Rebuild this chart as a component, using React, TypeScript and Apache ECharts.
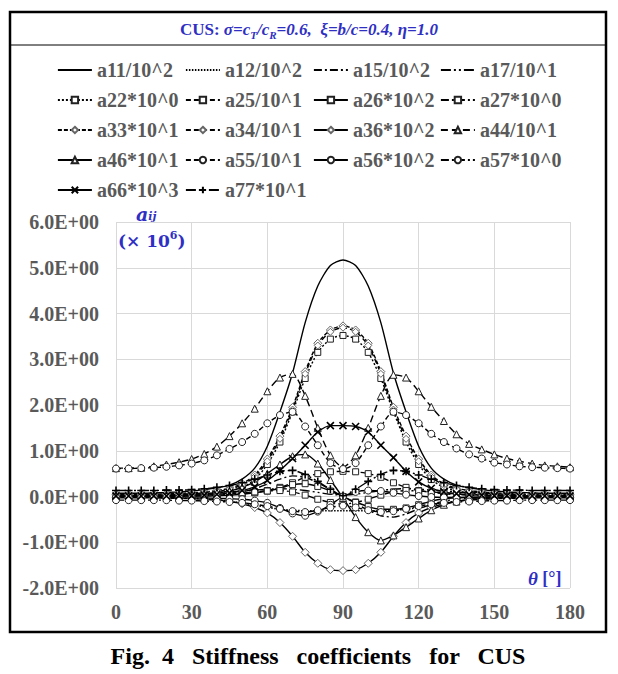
import React, { useEffect, useRef } from 'react';
import * as echarts from 'echarts';

const theta = [0, 5, 10, 15, 20, 25, 30, 35, 40, 45, 50, 55, 60, 65, 70, 75, 80, 85, 90, 95, 100, 105, 110, 115, 120, 125, 130, 135, 140, 145, 150, 155, 160, 165, 170, 175, 180];

const a11 = [0.07,0.07,0.07,0.08,0.09,0.1,0.12,0.15,0.19,0.25,0.38,0.62,1.1,1.85,2.7,3.8,4.6,5.05,5.17,5.05,4.6,3.8,2.7,1.85,1.1,0.62,0.38,0.25,0.19,0.15,0.12,0.1,0.09,0.08,0.07,0.07,0.07];
const a12 = [-0.01,-0.01,-0.01,-0.02,-0.02,-0.03,-0.04,-0.05,-0.07,-0.1,-0.14,-0.19,-0.24,-0.28,-0.3,-0.31,-0.31,-0.31,-0.31,-0.31,-0.31,-0.31,-0.3,-0.28,-0.24,-0.19,-0.14,-0.1,-0.07,-0.05,-0.04,-0.03,-0.02,-0.02,-0.01,-0.01,-0.01];
const a15 = [0,0,0,0,0.01,0.01,0.02,0.03,0.04,0.06,0.1,0.17,0.27,0.38,0.45,0.42,0.3,0.15,0,-0.15,-0.3,-0.42,-0.45,-0.38,-0.27,-0.17,-0.1,-0.06,-0.04,-0.03,-0.02,-0.01,-0.01,0,0,0,0];
const a17 = [0.04,0.04,0.04,0.04,0.05,0.05,0.06,0.07,0.08,0.1,0.12,0.14,0.16,0.17,0.16,0.13,0.09,0.05,0.03,0.05,0.09,0.13,0.16,0.17,0.16,0.14,0.12,0.1,0.08,0.07,0.06,0.05,0.05,0.04,0.04,0.04,0.04];
const a22 = [0.01,0.01,0.01,0.02,0.02,0.03,0.04,0.06,0.08,0.12,0.2,0.37,0.7,1.19,1.85,2.58,3.15,3.44,3.52,3.44,3.15,2.58,1.85,1.19,0.7,0.37,0.2,0.12,0.08,0.06,0.04,0.03,0.02,0.02,0.01,0.01,0.01];
const a25 = [0,0,0,0,0.01,0.01,0.01,0.02,0.03,0.04,0.06,0.09,0.13,0.2,0.3,0.42,0.5,0.54,0.55,0.54,0.5,0.42,0.3,0.2,0.13,0.09,0.06,0.04,0.03,0.02,0.01,0.01,0.01,0,0,0,0];
const a26 = [0,0,0,0,0,0.01,0.01,0.01,0.02,0.03,0.05,0.08,0.12,0.18,0.26,0.28,0.22,0.12,0,-0.12,-0.22,-0.28,-0.28,-0.25,-0.18,-0.1,-0.05,-0.03,-0.02,-0.01,-0.01,-0.01,0,0,0,0,0];
const a27 = [0.02,0.02,0.02,0.02,0.02,0.03,0.03,0.04,0.05,0.06,0.08,0.1,0.12,0.13,0.1,0.03,-0.06,-0.13,-0.17,-0.13,-0.06,0.03,0.1,0.13,0.12,0.1,0.08,0.06,0.05,0.04,0.03,0.03,0.02,0.02,0.02,0.02,0.02];
const a33 = [0.05,0.05,0.05,0.05,0.06,0.07,0.08,0.1,0.13,0.18,0.28,0.47,0.82,1.32,1.95,2.73,3.35,3.64,3.73,3.64,3.35,2.73,1.95,1.32,0.82,0.47,0.28,0.18,0.13,0.1,0.08,0.07,0.06,0.05,0.05,0.05,0.05];
const a34 = [0.03,0.03,0.03,0.03,0.04,0.05,0.06,0.08,0.11,0.16,0.25,0.43,0.77,1.26,1.9,2.68,3.3,3.6,3.69,3.6,3.3,2.68,1.9,1.26,0.77,0.43,0.25,0.16,0.11,0.08,0.06,0.05,0.04,0.03,0.03,0.03,0.03];
const a36 = [-0.03,-0.03,-0.03,-0.03,-0.04,-0.04,-0.05,-0.06,-0.08,-0.11,-0.16,-0.24,-0.36,-0.57,-0.87,-1.22,-1.46,-1.6,-1.62,-1.6,-1.46,-1.22,-0.87,-0.57,-0.36,-0.24,-0.16,-0.11,-0.08,-0.06,-0.05,-0.04,-0.04,-0.03,-0.03,-0.03,-0.03];
const a44 = [0.62,0.62,0.63,0.66,0.7,0.75,0.82,0.93,1.09,1.32,1.6,1.92,2.3,2.6,2.68,2.2,1.5,0.9,0.64,0.9,1.5,2.2,2.66,2.6,2.3,1.96,1.65,1.36,1.15,1.03,0.92,0.83,0.77,0.72,0.68,0.66,0.64];
const a46 = [0.02,0.02,0.02,0.03,0.03,0.04,0.05,0.06,0.08,0.12,0.2,0.32,0.5,0.7,0.88,0.92,0.72,0.36,-0.03,-0.45,-0.78,-0.96,-0.85,-0.67,-0.48,-0.3,-0.18,-0.11,-0.07,-0.05,-0.04,-0.03,-0.03,-0.02,-0.02,-0.02,-0.02];
const a55 = [0.61,0.61,0.62,0.63,0.65,0.68,0.72,0.79,0.9,1.04,1.19,1.37,1.6,1.78,1.85,1.53,1.12,0.73,0.6,0.73,1.12,1.53,1.85,1.78,1.6,1.37,1.19,1.05,0.92,0.83,0.74,0.7,0.66,0.64,0.63,0.62,0.61];
const a56 = [-0.02,-0.02,-0.02,-0.02,-0.02,-0.03,-0.03,-0.03,-0.04,-0.05,-0.06,-0.09,-0.14,-0.25,-0.37,-0.42,-0.33,-0.18,0,0.1,0.13,0.12,0.08,0.04,0.01,-0.01,-0.02,-0.02,-0.02,-0.02,-0.02,-0.02,-0.02,-0.02,-0.02,-0.02,-0.02];
const a57 = [-0.08,-0.08,-0.08,-0.08,-0.08,-0.09,-0.09,-0.1,-0.11,-0.12,-0.14,-0.17,-0.21,-0.27,-0.32,-0.34,-0.3,-0.24,-0.2,-0.24,-0.3,-0.34,-0.32,-0.27,-0.21,-0.17,-0.14,-0.12,-0.11,-0.1,-0.09,-0.09,-0.08,-0.08,-0.08,-0.08,-0.08];
const a66 = [0.01,0.01,0.01,0.01,0.01,0.02,0.02,0.03,0.05,0.08,0.13,0.21,0.35,0.57,0.83,1.12,1.41,1.55,1.55,1.53,1.41,1.12,0.85,0.55,0.32,0.18,0.1,0.06,0.04,0.03,0.02,0.02,0.01,0.01,0.01,0.01,0.01];
const a77 = [0.13,0.13,0.13,0.13,0.14,0.14,0.15,0.17,0.2,0.24,0.3,0.38,0.47,0.55,0.57,0.48,0.33,0.16,0.02,0.16,0.33,0.48,0.57,0.55,0.47,0.38,0.3,0.24,0.2,0.17,0.15,0.14,0.14,0.13,0.13,0.13,0.13];

const legendCol1 = ['a11/10^2', 'a22*10^0', 'a33*10^1', 'a46*10^1', 'a66*10^3'];
const legendCol2 = ['a12/10^2', 'a25/10^1', 'a34/10^1', 'a55/10^1', 'a77*10^1'];
const legendCol3 = ['a15/10^2', 'a26*10^2', 'a36*10^2', 'a56*10^2'];
const legendCol4 = ['a17/10^1', 'a27*10^0', 'a44/10^1', 'a57*10^0'];

const yTicks = [-2, -1, 0, 1, 2, 3, 4, 5, 6];

const XSYM = 'path://M0,0L10,10M10,0L0,10';
const PSYM = 'path://M5,0L5,10M0,5L10,5';

const DASH = [5, 3];
const SHORTDASH = [4, 2];
const DOT = [1.5, 1.5];
const DASHDOT = [8, 3, 2, 3];
const DASHDOTDOT = [10, 3, 2, 3, 2, 3];

const defs: any[] = [
  { name: 'a11/10^2', data: a11, dash: 'solid', symbol: 'none' },
  { name: 'a12/10^2', data: a12, dash: DOT, symbol: 'none' },
  { name: 'a15/10^2', data: a15, dash: DASHDOT, symbol: 'none' },
  { name: 'a17/10^1', data: a17, dash: DASHDOTDOT, symbol: 'none' },
  { name: 'a22*10^0', data: a22, dash: [2, 2], symbol: 'rect', size: 6 },
  { name: 'a25/10^1', data: a25, dash: DASH, symbol: 'rect', size: 6 },
  { name: 'a26*10^2', data: a26, dash: 'solid', symbol: 'rect', size: 6 },
  { name: 'a27*10^0', data: a27, dash: DASHDOT, symbol: 'rect', size: 6 },
  { name: 'a33*10^1', data: a33, dash: SHORTDASH, symbol: 'diamond', size: 8, gray: true },
  { name: 'a34/10^1', data: a34, dash: DASH, symbol: 'diamond', size: 7, gray: true },
  { name: 'a36*10^2', data: a36, dash: 'solid', symbol: 'diamond', size: 8, gray: true },
  { name: 'a44/10^1', data: a44, dash: [7, 4], symbol: 'triangle', size: 7 },
  { name: 'a46*10^1', data: a46, dash: 'solid', symbol: 'triangle', size: 7 },
  { name: 'a55/10^1', data: a55, dash: DASH, symbol: 'circle', size: 7 },
  { name: 'a56*10^2', data: a56, dash: 'solid', symbol: 'circle', size: 7 },
  { name: 'a57*10^0', data: a57, dash: DASHDOT, symbol: 'circle', size: 7 },
  { name: 'a66*10^3', data: a66, dash: 'solid', symbol: XSYM, size: 7, stroke: true },
  { name: 'a77*10^1', data: a77, dash: DASHDOTDOT, symbol: PSYM, size: 8, stroke: true },
];

const FONT = "'Liberation Serif', 'Times New Roman', serif";
const BLUE = '#2f2fc4';
const GRAY = '#595959';
const CLEAR = 'rgba(0,0,0,0)';

export default function App() {
  const ref = useRef<HTMLDivElement>(null);
  useEffect(() => {
    document.body.style.margin = '0';
    const chart = echarts.init(ref.current!, null, { renderer: 'svg' });
    const series = defs.map((d) => {
      const none = d.symbol === 'none';
      return {
        name: d.name,
        type: 'line',
        data: theta.map((t, i) => [t, d.data[i]]),
        smooth: 0.25,
        symbol: none ? 'circle' : d.symbol,
        symbolSize: d.size || 6,
        showSymbol: !none,
        lineStyle: { color: '#000', width: 1.4, type: d.dash },
        itemStyle: none
          ? { color: CLEAR, borderColor: CLEAR, borderWidth: 0 }
          : d.stroke
          ? { color: '#000', borderColor: '#000', borderWidth: 1.6 }
          : { color: '#fff', borderColor: d.gray ? '#666' : '#222', borderWidth: 1 },
        z: 3,
      };
    });
    const legendBase = {
      orient: 'vertical',
      itemWidth: 34,
      itemHeight: 8,
      itemGap: 10,
      top: 55,
      textStyle: { fontFamily: FONT, fontWeight: 'bold', fontSize: 20, color: GRAY, lineHeight: 20 },
      lineStyle: { width: 1.8 },
      selectedMode: false,
    };
    chart.setOption({
      animation: false,
      backgroundColor: '#fff',
      grid: { left: 116, right: 48, top: 222, bottom: 86 },
      legend: [
        { ...legendBase, left: 52, data: legendCol1 },
        { ...legendBase, left: 180, data: legendCol2 },
        { ...legendBase, left: 308, data: legendCol3 },
        { ...legendBase, left: 435, data: legendCol4 },
      ],
      xAxis: {
        type: 'value',
        min: 0,
        max: 180,
        interval: 30,
        axisLine: { show: false },
        axisTick: { show: false },
        splitLine: { show: true, lineStyle: { color: '#d9d9d9', width: 1 } },
        axisLabel: { fontFamily: FONT, fontWeight: 'bold', fontSize: 20, color: GRAY, margin: 14 },
      },
      yAxis: {
        type: 'value',
        min: yTicks[0],
        max: yTicks[yTicks.length - 1],
        interval: 1,
        axisLine: { show: false },
        axisTick: { show: false },
        splitLine: { show: true, lineStyle: { color: '#d9d9d9', width: 1 } },
        axisLabel: {
          fontFamily: FONT,
          fontWeight: 'bold',
          fontSize: 20,
          color: GRAY,
          margin: 17,
          formatter: (v: number) => v.toFixed(1) + 'E+00',
        },
      },
      graphic: [
        { type: 'rect', silent: true, shape: { x: 10, y: 12, width: 596, height: 620 }, style: { fill: 'none', stroke: '#000', lineWidth: 2.5 }, z: 10 },
        { type: 'line', silent: true, shape: { x1: 10, y1: 45, x2: 606, y2: 45 }, style: { stroke: '#000', lineWidth: 1 }, z: 10 },
        {
          type: 'text', silent: true, x: 309, y: 29, z: 10,
          style: {
            text: '{b|CUS: }{i|σ=c}{s|T}{i|/c}{s|R}{i|=0.6,  ξ=b/c=0.4, η=1.0}',
            align: 'center', verticalAlign: 'middle',
            rich: {
              b: { fontFamily: FONT, fontWeight: 'bold', fontSize: 17, fill: BLUE, lineHeight: 22, verticalAlign: 'middle' },
              i: { fontFamily: FONT, fontWeight: 'bold', fontStyle: 'italic', fontSize: 17, fill: BLUE, lineHeight: 22, verticalAlign: 'middle' },
              s: { fontFamily: FONT, fontWeight: 'bold', fontStyle: 'italic', fontSize: 11, fill: BLUE, lineHeight: 11, verticalAlign: 'bottom' },
            },
          },
        },
        {
          type: 'text', silent: true, x: 136, y: 214, z: 10,
          style: {
            text: '{a|a}{s|ij}',
            align: 'left', verticalAlign: 'middle',
            rich: {
              a: { fontFamily: "'DejaVu Serif', serif", fontWeight: 'bold', fontStyle: 'italic', fontSize: 19, fill: BLUE, lineHeight: 16, verticalAlign: 'middle' },
              s: { fontFamily: "'DejaVu Serif', serif", fontWeight: 'bold', fontStyle: 'italic', fontSize: 11, fill: BLUE, lineHeight: 11, verticalAlign: 'bottom' },
            },
          },
        },
        {
          type: 'text', silent: true, x: 118, y: 241, z: 10,
          style: {
            text: '{p|(× 10}{u|6}{p|)}',
            align: 'left', verticalAlign: 'middle',
            rich: {
              p: { fontFamily: "'DejaVu Serif', serif", fontWeight: 'bold', fontSize: 17, fill: BLUE, lineHeight: 22, verticalAlign: 'middle' },
              u: { fontFamily: "'DejaVu Serif', serif", fontWeight: 'bold', fontSize: 11, fill: BLUE, lineHeight: 11, verticalAlign: 'top' },
            },
          },
        },
        {
          type: 'text', silent: true, x: 528, y: 578, z: 10,
          style: {
            text: '{t|θ}{p| [°]}',
            align: 'left', verticalAlign: 'middle',
            rich: {
              t: { fontFamily: FONT, fontWeight: 'bold', fontStyle: 'italic', fontSize: 19, fill: BLUE },
              p: { fontFamily: FONT, fontWeight: 'bold', fontSize: 18, fill: BLUE },
            },
          },
        },
        {
          type: 'text', silent: true, x: 318, y: 656, z: 10,
          style: {
            text: 'Fig.  4   Stiffness   coefficients   for   CUS',
            align: 'center', verticalAlign: 'middle',
            fontFamily: FONT, fontWeight: 'bold', fontSize: 24, fill: '#000',
          },
        },
      ],
      series,
    });
    return () => chart.dispose();
  }, []);
  return <div ref={ref} style={{ width: 618, height: 674 }} />;
}
